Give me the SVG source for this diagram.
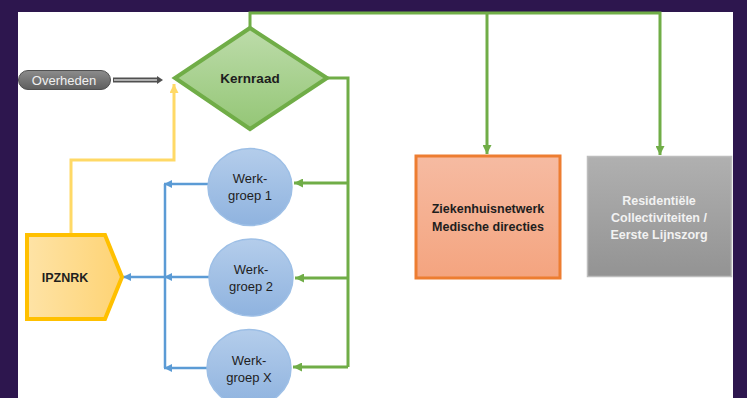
<svg xmlns="http://www.w3.org/2000/svg" width="747" height="398" viewBox="0 0 747 398">
  <defs>
    <linearGradient id="gGreen" x1="0" y1="0" x2="0" y2="1">
      <stop offset="0" stop-color="#bddcaa"/>
      <stop offset="1" stop-color="#94c676"/>
    </linearGradient>
    <linearGradient id="gBlue" x1="0" y1="0" x2="0" y2="1">
      <stop offset="0" stop-color="#b4cdeb"/>
      <stop offset="1" stop-color="#8fb3df"/>
    </linearGradient>
    <linearGradient id="gYellow" x1="0" y1="0" x2="1" y2="0">
      <stop offset="0" stop-color="#fee3a6"/>
      <stop offset="1" stop-color="#fed374"/>
    </linearGradient>
    <linearGradient id="gOrange" x1="0" y1="0" x2="0" y2="1">
      <stop offset="0" stop-color="#f6bba2"/>
      <stop offset="1" stop-color="#f4a47f"/>
    </linearGradient>
    <linearGradient id="gGray" x1="0" y1="0" x2="0" y2="1">
      <stop offset="0" stop-color="#b0b0b0"/>
      <stop offset="1" stop-color="#939393"/>
    </linearGradient>
    <linearGradient id="gPill" x1="0" y1="0" x2="0" y2="1">
      <stop offset="0" stop-color="#8c8c8c"/>
      <stop offset="1" stop-color="#5e5e5e"/>
    </linearGradient>
    <marker id="aGreen" viewBox="0 0 10 10" refX="10" refY="5" markerWidth="9" markerHeight="9" markerUnits="userSpaceOnUse" orient="auto">
      <path d="M0,0 L10,5 L0,10 Z" fill="#70ad47"/>
    </marker>
    <marker id="aBlue" viewBox="0 0 10 10" refX="10" refY="5" markerWidth="8" markerHeight="8" markerUnits="userSpaceOnUse" orient="auto">
      <path d="M0,0 L10,5 L0,10 Z" fill="#5b9bd5"/>
    </marker>
    <marker id="aYellow" viewBox="0 0 10 10" refX="10" refY="5" markerWidth="9" markerHeight="9" markerUnits="userSpaceOnUse" orient="auto">
      <path d="M0,0 L10,5 L0,10 Z" fill="#ffd966"/>
    </marker>
  </defs>
  <style>
    .t { font-family: "Liberation Sans", Arial, sans-serif; fill: #1e1e1e; text-anchor: middle; }
    .b { font-weight: bold; }
    .g { fill: none; stroke: #70ad47; stroke-width: 3; }
    .bl { fill: none; stroke: #5b9bd5; stroke-width: 2.5; }
    .y { fill: none; stroke: #ffd966; stroke-width: 3; }
    .circ { fill: url(#gBlue); stroke: #9dbfe6; stroke-width: 1.5; }
  </style>

  <rect x="0" y="0" width="747" height="398" fill="#2d164e"/>
  <rect x="18" y="12" width="715" height="386" fill="#ffffff"/>

  <g id="connectors">
    <path class="g" d="M250,28 V13 H660 V155" marker-end="url(#aGreen)"/>
    <path class="g" d="M487,13 V154" marker-end="url(#aGreen)"/>
    <path class="g" d="M327,78 H348 V367"/>
    <path class="g" d="M348,183 H294" marker-end="url(#aGreen)"/>
    <path class="g" d="M348,278 H295" marker-end="url(#aGreen)"/>
    <path class="g" d="M348,367 H293" marker-end="url(#aGreen)"/>
    <path class="bl" d="M208,184 H164" marker-end="url(#aBlue)"/>
    <path class="bl" d="M209,277 H164" marker-end="url(#aBlue)"/>
    <path class="bl" d="M207,368 H164" marker-end="url(#aBlue)"/>
    <path class="bl" d="M165,184 V368"/>
    <path class="bl" d="M165,277 H123" marker-end="url(#aBlue)"/>
    <path class="y" d="M71,235 V160 H174 V84" marker-end="url(#aYellow)"/>
    <g id="overheden-arrow">
      <path d="M113,80 H158" stroke="#505050" stroke-width="5" fill="none"/>
      <path d="M114,80 H158" stroke="#d0d0d0" stroke-width="1.5" fill="none"/>
      <path d="M157,76 L163,80 L157,84 Z" fill="#505050"/>
    </g>
  </g>

  <g id="overheden">
    <rect x="18.5" y="70.5" width="92" height="19" rx="9.5" fill="url(#gPill)" stroke="#505050" stroke-width="1"/>
    <text class="t" x="64" y="84.5" font-size="13" style="fill:#f0f0f0">Overheden</text>
  </g>

  <g id="kernraad">
    <path d="M250,28 L327,78 L250,129 L175,78 Z" fill="url(#gGreen)" stroke="#70ad47" stroke-width="4" stroke-linejoin="miter"/>
    <text class="t b" x="250" y="83" font-size="13.5">Kernraad</text>
  </g>

  <g id="werkgroep1">
    <ellipse class="circ" cx="250" cy="187" rx="42" ry="38.5"/>
    <text class="t" x="250" y="183" font-size="13">Werk-</text>
    <text class="t" x="250" y="199.5" font-size="13">groep 1</text>
  </g>

  <g id="werkgroep2">
    <ellipse class="circ" cx="251" cy="277.5" rx="42" ry="38.5"/>
    <text class="t" x="251" y="274" font-size="13">Werk-</text>
    <text class="t" x="251" y="290.5" font-size="13">groep 2</text>
  </g>

  <g id="werkgroepX">
    <ellipse class="circ" cx="249" cy="368" rx="42" ry="38.5"/>
    <text class="t" x="249" y="365" font-size="13">Werk-</text>
    <text class="t" x="249" y="381.5" font-size="13">groep X</text>
  </g>

  <g id="ipznrk">
    <path d="M27,235 H105 L122,277 L105,319 H27 Z" fill="url(#gYellow)" stroke="#ffc000" stroke-width="4" stroke-linejoin="miter"/>
    <text class="t b" x="65" y="282" font-size="12.5">IPZNRK</text>
  </g>

  <g id="ziekenhuisnetwerk">
    <rect x="416" y="156" width="144" height="122" fill="url(#gOrange)" stroke="#ed7d31" stroke-width="3"/>
    <text class="t b" x="488" y="213" font-size="12.5">Ziekenhuisnetwerk</text>
    <text class="t b" x="488" y="230.5" font-size="12.5">Medische directies</text>
  </g>

  <g id="residentiele">
    <rect x="587.5" y="156.5" width="144" height="120" fill="url(#gGray)" stroke="#bdbdbd" stroke-width="1.5"/>
    <text class="t b" x="659" y="205" font-size="12.5" style="fill:#f2f2f2">Residentiële</text>
    <text class="t b" x="659" y="222" font-size="12.5" style="fill:#f2f2f2">Collectiviteiten /</text>
    <text class="t b" x="659" y="239" font-size="12.5" style="fill:#f2f2f2">Eerste Lijnszorg</text>
  </g>
</svg>
